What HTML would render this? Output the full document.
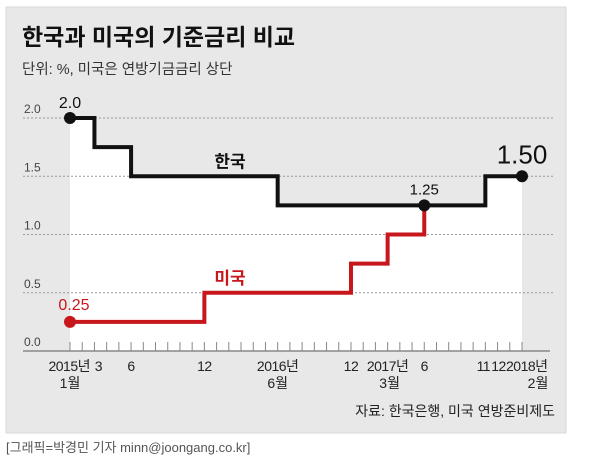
<!DOCTYPE html>
<html><head><meta charset="utf-8"><style>
body{margin:0;width:602px;height:457px;background:#fff;overflow:hidden;font-family:"Liberation Sans","Noto Sans CJK KR",sans-serif}
</style></head><body>
<svg id="chart" width="602" height="457" style="position:absolute;left:0;top:0">
<rect x="6" y="7" width="560" height="426" fill="#e8e8e8" stroke="#d8d8d8"/>
<text x="22" y="45" font-size="23" font-weight="bold" fill="#111">한국과 미국의 기준금리 비교</text>
<text x="22" y="74" font-size="14.5" fill="#333">단위: %, 미국은 연방기금금리 상단</text>
<g id="plot"></g>
<text x="555" y="416" font-size="14" fill="#222" text-anchor="end">자료: 한국은행, 미국 연방준비제도</text>
<text x="6" y="452" font-size="13" fill="#555">[그래픽=박경민 기자 minn@joongang.co.kr]</text>
</svg>
<script>
const yTicks=[0,0.5,1.0,1.5,2.0];
const yTickLabels=["0.0","0.5","1.0","1.5","2.0"];
const korMonths=[0,2,5,17,34,37];
const korRates=[2.0,1.75,1.5,1.25,1.5,1.5];
const usMonths=[0,11,23,26,29];
const usRates=[0.25,0.5,0.75,1.0,1.25];
const xLabelMonths=[0,2,5,11,17,23,26,29,34,35,37];
const xLabels1=["2015년","3","6","12","2016년","12","2017년","6","11","12","2018년"];
const xLabels2=["1월","","","","6월","","3월","","","","2월"];
const NS="http://www.w3.org/2000/svg";
const g=document.getElementById('plot');
const x=m=>70+m*(452/37);
const y=v=>351-v*116.5;
function el(t,a,txt){const e=document.createElementNS(NS,t);for(const k in a)e.setAttribute(k,a[k]);if(txt!==undefined)e.textContent=txt;g.appendChild(e);return e;}
function stepPts(ms,rs){let p=[];for(let i=0;i<ms.length;i++){if(i>0)p.push([x(ms[i]),y(rs[i-1])]);p.push([x(ms[i]),y(rs[i])]);}return p;}
const kp=stepPts(korMonths,korRates);
let area=el('polygon',{points:kp.map(p=>p.join(',')).join(' ')+` ${x(37)},${y(0)} ${x(0)},${y(0)}`,fill:'#fff'});


yTicks.forEach((v,i)=>{
 if(v>0){const l=el('line',{x1:23,x2:555,y1:y(v),y2:y(v),stroke:'#999','stroke-dasharray':'2,2','stroke-width':1});
 
 }
 const t=el('text',{x:24,y:y(v)-5,'font-size':12,fill:'#444'},yTickLabels[i]);
 
 
});
const ax=el('line',{x1:23,x2:550,y1:y(0),y2:y(0),stroke:'#888','stroke-width':1.5});


for(let m=0;m<=37;m++){const t=el('line',{x1:x(m),x2:x(m),y1:y(0)-9,y2:y(0),stroke:'#888','stroke-width':1});

}
xLabelMonths.forEach((m,i)=>{
 let anchor='middle',xx=x(m);
 if(m===0){xx=x(m)+20;anchor='end';}
 if(m===2)xx+=4;
 if(m===34)xx-=2; if(m===35)xx+=1;
 if(m===37){xx=x(m)-16;anchor='start';}
 const t=el('text',{x:xx,y:371,'font-size':14,fill:'#222','text-anchor':anchor,'letter-spacing':'-0.5'},xLabels1[i]);
 
 
 if(xLabels2[i]){const t2=el('text',{x:x(m)+(m===37?16:(m===26?2:0)),y:388,'font-size':14,fill:'#222','text-anchor':'middle'},xLabels2[i]);
 
 }
});
const up=stepPts(usMonths,usRates);
const usl=el('polyline',{points:up.map(p=>p.join(',')).join(' '),fill:'none',stroke:'#c8161d','stroke-width':4});


const kl=el('polyline',{points:kp.map(p=>p.join(',')).join(' '),fill:'none',stroke:'#111','stroke-width':4});


const d1=el('circle',{cx:x(0),cy:y(korRates[0]),r:6,fill:'#111'});


const d2=el('circle',{cx:x(usMonths[usMonths.length-1]),cy:y(usRates[usRates.length-1]),r:6,fill:'#111'});


const d3=el('circle',{cx:x(37),cy:y(korRates[korRates.length-1]),r:6,fill:'#111'});


const d4=el('circle',{cx:x(0),cy:y(usRates[0]),r:6,fill:'#c8161d'});


const labs=[[x(0),y(2.0)-10,'2.0',16,'#111','korea-start-label'],[x(29),y(1.25)-11,'1.25',15,'#111','us-end-label'],[x(37),y(1.5)-13,'1.50',26,'#111','korea-end-label'],[x(0)+4,y(0.25)-12,'0.25',16,'#c8161d','us-start-label'],[230,y(1.5)-9,'한국',17,'#111','korea-series-label'],[230,y(0.5)-9,'미국',17,'#c8161d','us-series-label']];
labs.forEach(a=>{const t=el('text',{x:a[0],y:a[1],'font-size':a[3],fill:a[4],'text-anchor':'middle','font-weight':a[5].includes('series')?'bold':'normal'},a[2]);

});
</script>
</body></html>
